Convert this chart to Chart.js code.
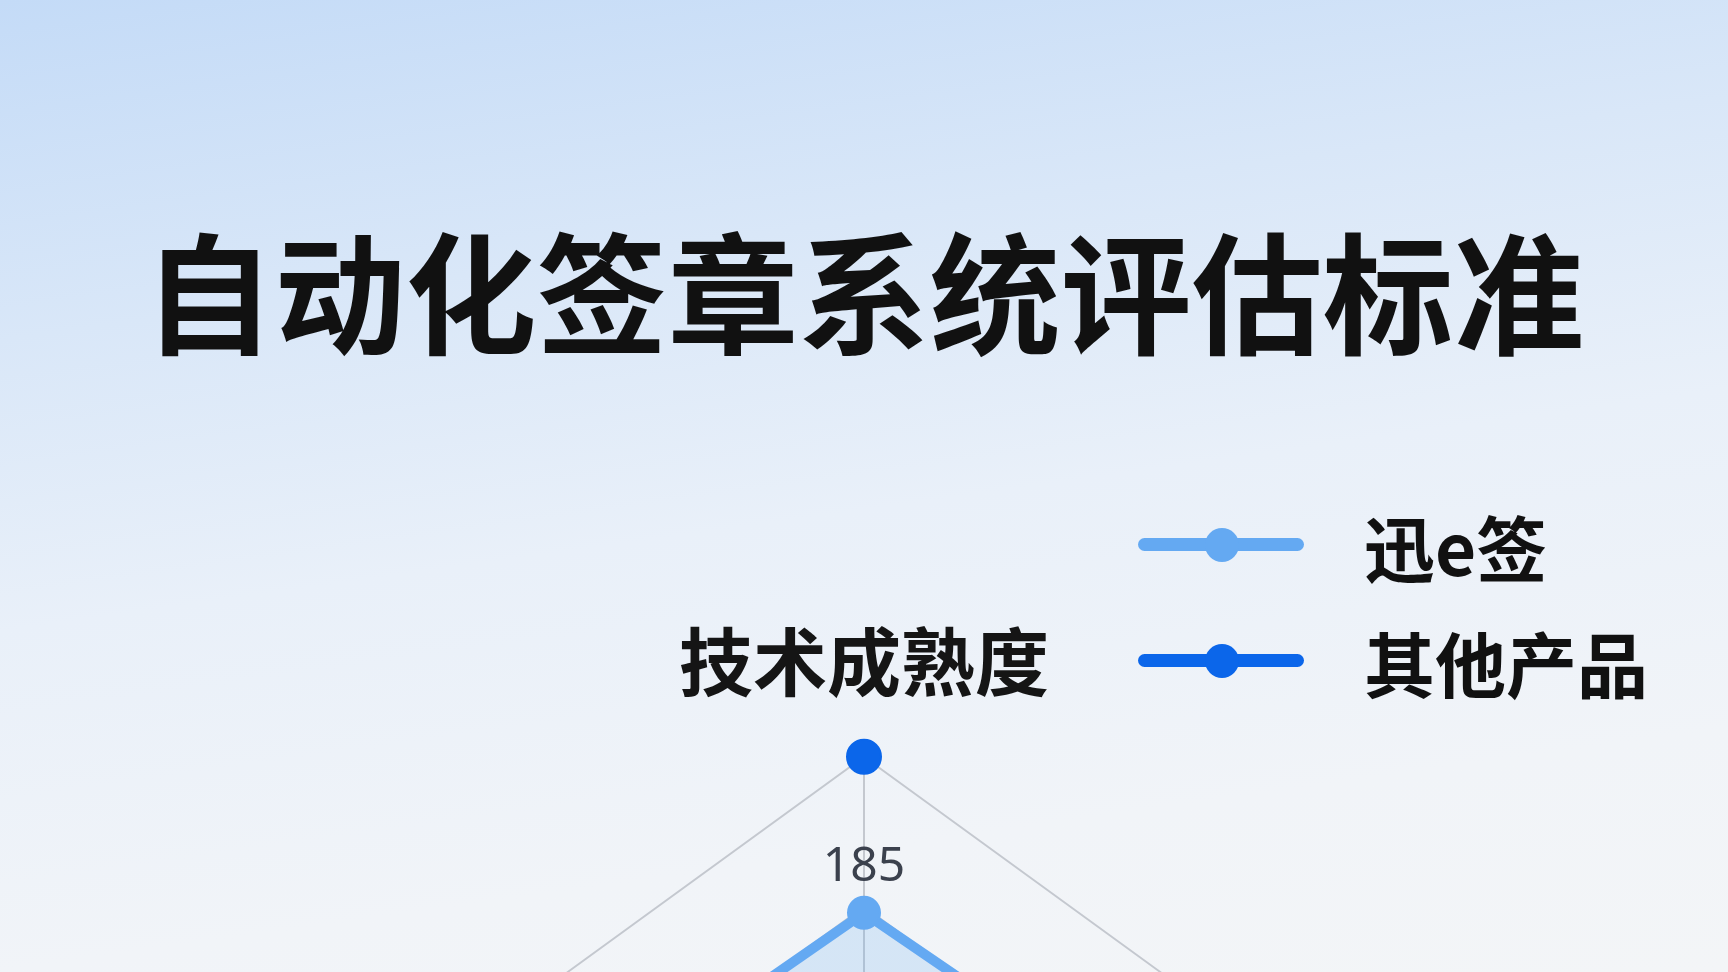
<!DOCTYPE html>
<html lang="zh-CN">
<head>
<meta charset="utf-8">
<title>自动化签章系统评估标准</title>
<script src="https://cdn.jsdelivr.net/npm/chart.js@4.4.1/dist/chart.umd.min.js"></script>
<style>
  html, body {
    margin: 0;
    padding: 0;
    width: 1728px;
    height: 972px;
    overflow: hidden;
  }
  body {
    position: relative;
    background: linear-gradient(172deg, #c4dbf7 0%, #d9e7f8 28%, #e9f0f9 52%, #f1f4f8 80%, #f3f5f7 100%);
    font-family: "Noto Sans CJK SC", "Noto Sans", sans-serif;
  }
  h1 {
    position: absolute;
    left: 0;
    width: 1728px;
    top: 214px;
    margin: 0;
    text-align: center;
    font-size: 131px;
    line-height: 146px;
    font-weight: 700;
    color: #111;
    letter-spacing: 0;
  }
  .chart-box {
    position: absolute;
    left: 0;
    top: 0;
    width: 1728px;
    height: 2028px;
  }
  .legend {
    position: absolute;
    left: 1138px;
    top: 500px;
  }
  .legend-item {
    position: relative;
    height: 116px;
    width: 560px;
  }
  .legend-line {
    position: absolute;
    left: 0;
    top: 38px;
    width: 166px;
    height: 13px;
    border-radius: 7px;
  }
  .legend-dot {
    position: absolute;
    left: 67px;
    top: 28px;
    width: 34px;
    height: 34px;
    border-radius: 50%;
  }
  .legend-text {
    position: absolute;
    left: 226px;
    top: 0;
    font-size: 71px;
    line-height: 90px;
    font-weight: 700;
    color: #111;
    white-space: nowrap;
  }
</style>
</head>
<body>
<h1>自动化签章系统评估标准</h1>
<div class="chart-box"><canvas id="radar"></canvas></div>
<div class="legend" id="legend"></div>
<script>
const axisLabels = ['技术成熟度', '安全性', '合规性', '集成能力', '易用性']
const seriesNames = ['迅e签', '其他产品']
const xunValues = [185, 193, 190, 178, 191]
const otherValues = [250, 150, 140, 135, 145]
const seriesColors = ['#64a9f2', '#0b66ea']
const scaleMin = 0
const scaleMax = 250
const scaleStep = 62.5

// value labels above the 迅e签 points
const valueLabels = {
  id: 'valueLabels',
  afterDatasetsDraw(chart) {
    const meta = chart.getDatasetMeta(0)
    const { ctx } = chart
    ctx.save()
    ctx.font = '400 48px "Noto Sans", Inter, sans-serif'
    ctx.fillStyle = '#3b414d'
    ctx.textAlign = 'center'
    ctx.textBaseline = 'middle'
    meta.data.forEach((pt, i) => {
      ctx.fillText(String(chart.data.datasets[0].data[i]), pt.x, pt.y - 46)
    })
    ctx.restore()
  },
}

const buildRadar = () => {
  const ctx = document.getElementById('radar')
  if (!ctx) return

  return new Chart(ctx, {
    type: 'radar',
    data: {
      labels: axisLabels,
      datasets: [
        {
          label: seriesNames[0],
          data: xunValues,
          borderColor: seriesColors[0],
          backgroundColor: 'rgba(100, 169, 242, 0.2)',
          fill: true,
          borderWidth: 10,
          pointRadius: 16,
          pointBorderWidth: 2,
          pointBackgroundColor: seriesColors[0],
          pointBorderColor: seriesColors[0],
        },
        {
          label: seriesNames[1],
          data: otherValues,
          borderColor: seriesColors[1],
          backgroundColor: 'transparent',
          fill: false,
          showLine: false,
          borderWidth: 0,
          pointRadius: 17,
          pointBorderWidth: 2,
          pointBackgroundColor: seriesColors[1],
          pointBorderColor: seriesColors[1],
        },
      ],
    },
    options: {
      responsive: true,
      maintainAspectRatio: false,
      animation: false,
      layout: {
        padding: { top: 548, left: 0, right: 0, bottom: 0 },
      },
      plugins: {
        legend: { display: false },
        title: { display: false },
        tooltip: { enabled: false },
      },
      scales: {
        r: {
          min: scaleMin,
          max: scaleMax,
          ticks: { display: false, stepSize: scaleStep },
          grid: { color: '#c4c8cf', lineWidth: 2 },
          angleLines: { color: '#c4c8cf', lineWidth: 2 },
          pointLabels: {
            padding: 51,
            color: '#151515',
            font: { family: '"Noto Sans CJK SC", sans-serif', size: 74, weight: 'bold' },
          },
        },
      },
    },
    plugins: [valueLabels],
  })
}

const buildLegend = () => {
  const box = document.getElementById('legend')
  seriesNames.forEach((name, i) => {
    const item = document.createElement('div')
    item.className = 'legend-item'
    item.innerHTML =
      `<div class="legend-line" style="background:${seriesColors[i]}"></div>` +
      `<div class="legend-dot" style="background:${seriesColors[i]}"></div>` +
      `<div class="legend-text">${name}</div>`
    box.appendChild(item)
  })
}

buildLegend()
buildRadar()
</script>
</body>
</html>
